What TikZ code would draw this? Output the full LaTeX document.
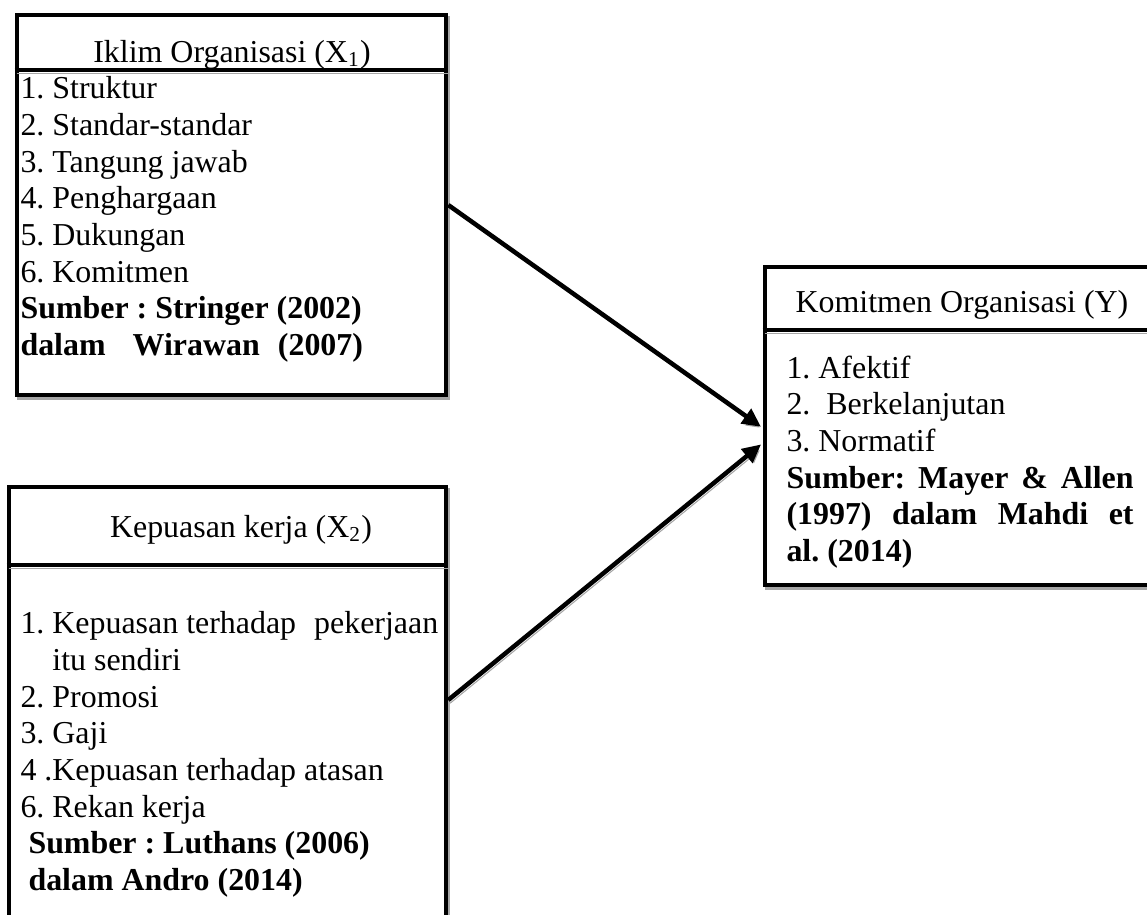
\documentclass[tikz,border=0pt]{standalone}
\usepackage{fontspec}
\setmainfont{Liberation Serif}
\frenchspacing
\usetikzlibrary{arrows.meta,fit}
\tikzset{
  shadowed/.style={preaction={draw=black!35, transform canvas={shift={(0.7pt,-1.2pt)}}}},
  box/.style={draw, line width=1.7pt, fill=white, inner sep=0pt, shadowed},
  divider/.style={line width=1.7pt, shadowed},
  boxhead/.style={anchor=base, inner sep=0pt, font=\fontsize{12}{13.8}\selectfont},
  boxbody/.style={anchor=north west, inner sep=0pt, align=left, font=\fontsize{12}{13.8}\selectfont},
  link/.style={line width=1.7pt, -{Triangle[length=7pt,width=6.5pt]}, shorten >=0.8pt, shadowed}
}
\begin{document}
\begin{tikzpicture}[x=0.376pt, y=-0.376pt]
  \useasboundingbox (0,0) rectangle (1147,914);
  \clip (0,0) rectangle (1147,914);
  % iklim organisasi
  \node[box, fit={(17,15) (446,395)}] (iklim) {};
  \draw[divider] (iklim.west |- 0,70) -- (iklim.east |- 0,70);
  \node[boxhead] (iklim-head) at (232,62) {Iklim Organisasi (X\textsubscript{1})};
  \node[boxbody] (iklim-body) at (20,76) {1. Struktur\\
    2. Standar-standar\\
    3. Tangung jawab\\
    4. Penghargaan\\
    5. Dukungan\\
    6. Komitmen\\
    \textbf{Sumber : Stringer (2002)}\\
    \textbf{dalam\hspace{10.2pt}Wirawan\hspace{6.8pt}(2007)}};
  % kepuasan kerja
  \node[box, fit={(9,487) (446,925)}] (kepuasan) {};
  \draw[divider] (kepuasan.west |- 0,565) -- (kepuasan.east |- 0,565);
  \node[boxhead] (kepuasan-head) at (241,537) {Kepuasan kerja (X\textsubscript{2})};
  \node[boxbody] (kepuasan-body) at (20,611) {1. Kepuasan terhadap\hspace{6.8pt}pekerjaan\\
    \phantom{1.}\ itu sendiri\\
    2. Promosi\\
    3. Gaji\\
    4 .Kepuasan terhadap atasan\\
    6. Rekan kerja\\
    \ \textbf{Sumber : Luthans (2006)}\\
    \ \textbf{dalam Andro (2014)}};
  % komitmen organisasi
  \node[box, fit={(765,267) (1160,585)}] (komitmen) {};
  \draw[divider] (komitmen.west |- 0,330) -- (komitmen.east |- 0,330);
  \node[boxhead] (komitmen-head) at (962,312) {Komitmen Organisasi (Y)};
  \node[boxbody] (komitmen-body) at (786,355) {1. Afektif\\
    2.\ \ Berkelanjutan\\
    3. Normatif\\
    \makebox[130.5pt][s]{\textbf{Sumber: Mayer \& Allen}}\\
    \makebox[130.5pt][s]{\textbf{(1997) dalam Mahdi et}}\\
    \textbf{al. (2014)}};
  % panah
  \draw[link] (iklim.east) -- ([yshift=-0.75pt]komitmen.west);
  \draw[link] ([yshift=2.25pt]kepuasan.east) -- ([yshift=-6.4pt]komitmen.west);
\end{tikzpicture}
\end{document}
